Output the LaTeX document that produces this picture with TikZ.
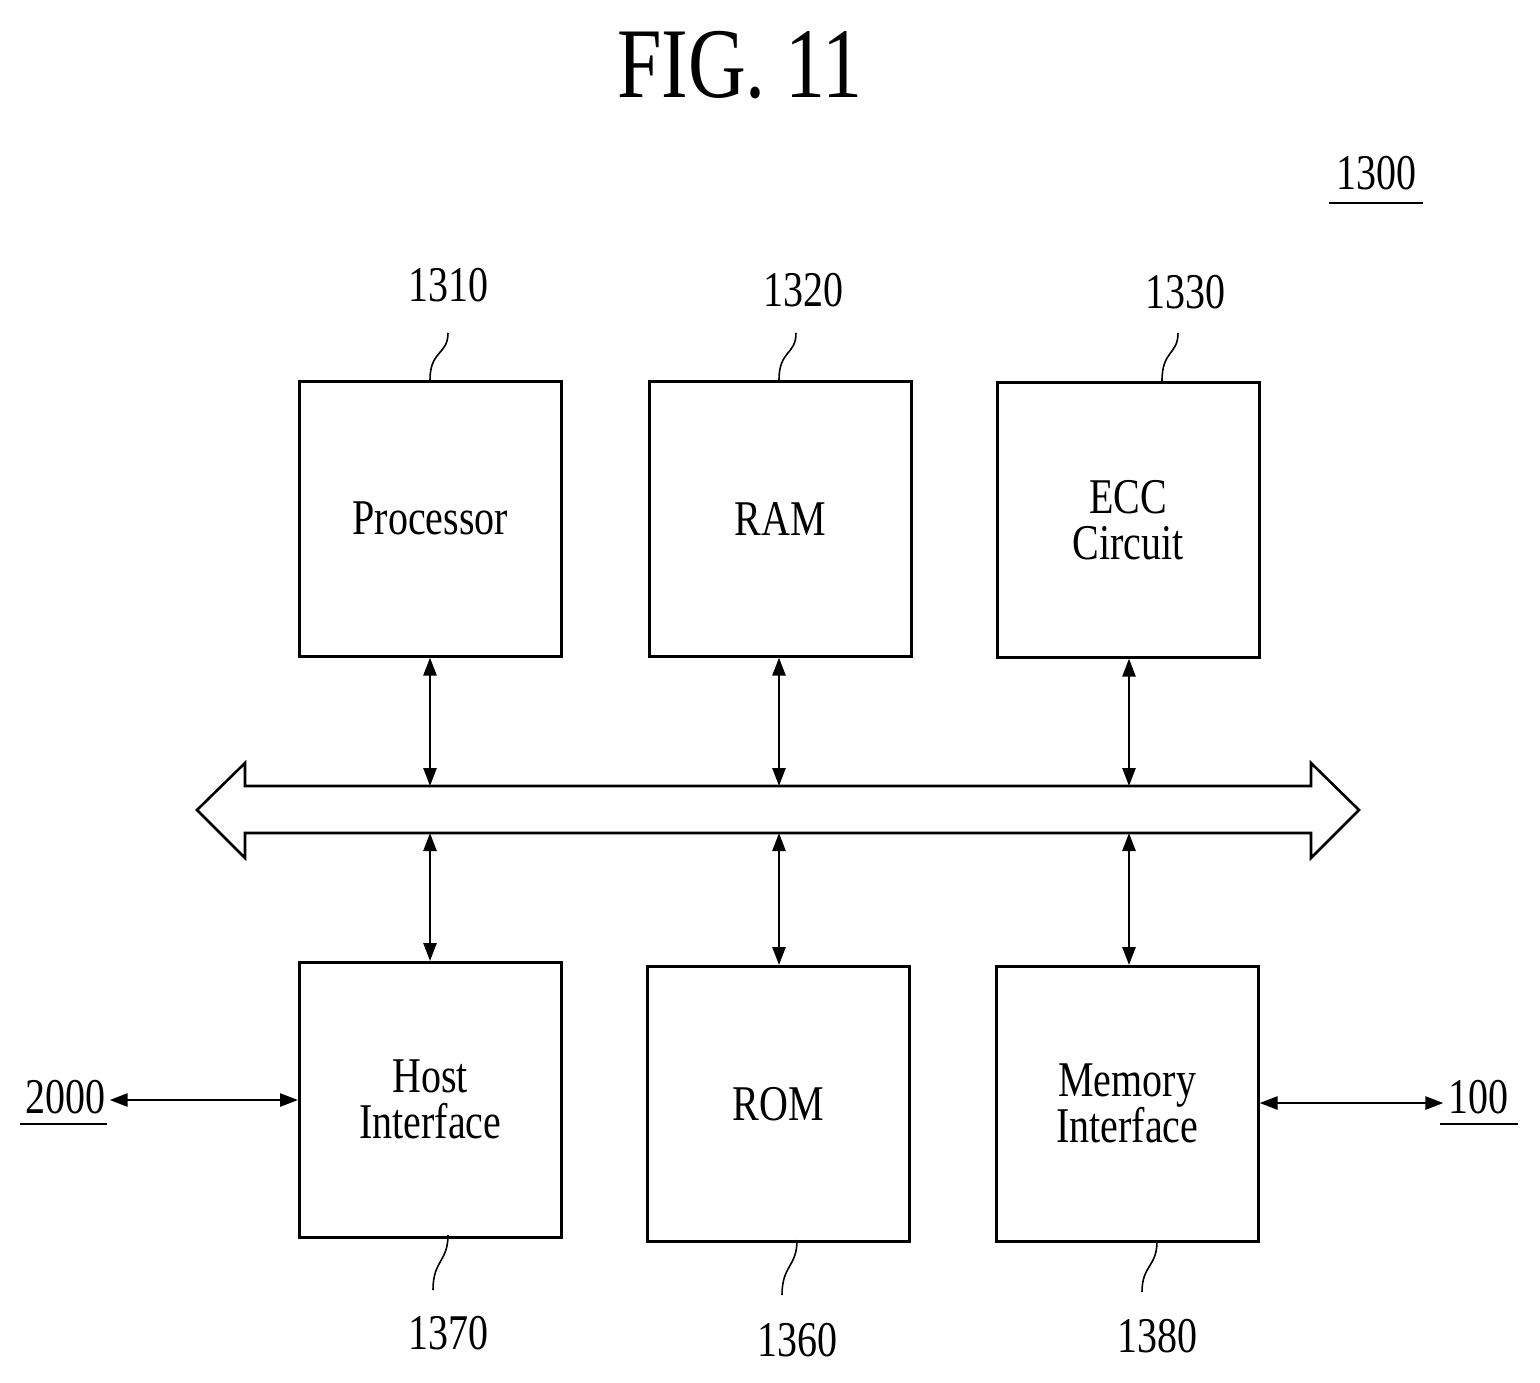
\documentclass[tikz,border=0pt]{standalone}
\usepackage{fontspec}
\setmainfont{Liberation Serif}
\usetikzlibrary{arrows.meta}
\newcommand\cnd[1]{\scalebox{0.8}[1]{#1}}
\begin{document}
\begin{tikzpicture}[x=1pt,y=-1pt,line width=2.6pt,
 box/.style={draw,minimum width=262pt,minimum height=275pt,anchor=north west,align=center,font=\fontsize{50}{46}\selectfont},
 num/.style={font=\fontsize{50}{50}\selectfont},
 arr/.style={{Triangle[length=18pt,width=13pt]}-{Triangle[length=18pt,width=13pt]}},
 lead/.style={line width=1.6pt}]
\useasboundingbox (0,0) rectangle (1540,1382);
\node[font=\fontsize{100}{100}\selectfont] (fig) at (740,65) {\cnd{FIG. 11}};
\node[num] (n1300) at (1376,173) {\cnd{1300}};
\draw[line width=2pt] (1329,203) -- (1423,203);
\node[box] (p) at (298,380) {\cnd{Processor}};
\node[box] (ram) at (648,380) {\cnd{RAM}};
\node[box] (ecc) at (996,381) {\cnd{ECC}\\\cnd{Circuit}};
\node[box] (host) at (298,961) {\cnd{Host}\\\cnd{Interface}};
\node[box] (rom) at (646,965) {\cnd{ROM}};
\node[box] (mem) at (995,965) {\cnd{Memory}\\\cnd{Interface}};
% bus
\draw (197,810) -- (245,763) -- (245,786) -- (1311,786) -- (1311,763) -- (1359,810) -- (1311,858) -- (1311,833) -- (245,833) -- (245,858) -- cycle;
\coordinate (b1t) at (430,786); \coordinate (b2t) at (779,786); \coordinate (b3t) at (1129,786);
\coordinate (b1b) at (430,833); \coordinate (b2b) at (779,833); \coordinate (b3b) at (1129,833);
\draw[arr] (p.south -| b1t) -- (b1t);
\draw[arr] (ram.south -| b2t) -- (b2t);
\draw[arr] (ecc.south -| b3t) -- (b3t);
\draw[arr] (b1b) -- (host.north -| b1b);
\draw[arr] (b2b) -- (rom.north -| b2b);
\draw[arr] (b3b) -- (mem.north -| b3b);
% externals
\node[num] (n2000) at (65,1097) {\cnd{2000}};
\draw[line width=2pt] (20,1124) -- (107,1124);
\node[num] (n100) at (1478,1097) {\cnd{100}};
\draw[line width=2pt] (1440,1124) -- (1518,1124);
\draw[arr] (n2000.east |- 0,1100) -- (host.west |- 0,1100);
\draw[arr] (mem.east |- 0,1103) -- (n100.west |- 0,1103);
% reference numbers
\node[num] (n1310) at (448,285) {\cnd{1310}};
\node[num] (n1320) at (803,290) {\cnd{1320}};
\node[num] (n1330) at (1185,292) {\cnd{1330}};
\node[num] (n1370) at (448,1333) {\cnd{1370}};
\node[num] (n1360) at (797,1340) {\cnd{1360}};
\node[num] (n1380) at (1157,1336) {\cnd{1380}};
\draw[lead] (448,333) .. controls (448,355) and (430,350) .. (430,380);
\draw[lead] (796,333) .. controls (796,355) and (779,350) .. (779,380);
\draw[lead] (1178,333) .. controls (1178,355) and (1162,350) .. (1162,381);
\draw[lead] (448,1235) .. controls (448,1262) and (433,1260) .. (433,1290);
\draw[lead] (797,1240) .. controls (797,1267) and (782,1265) .. (782,1295);
\draw[lead] (1157,1241) .. controls (1157,1267) and (1142,1265) .. (1142,1292);
\end{tikzpicture}
\end{document}
